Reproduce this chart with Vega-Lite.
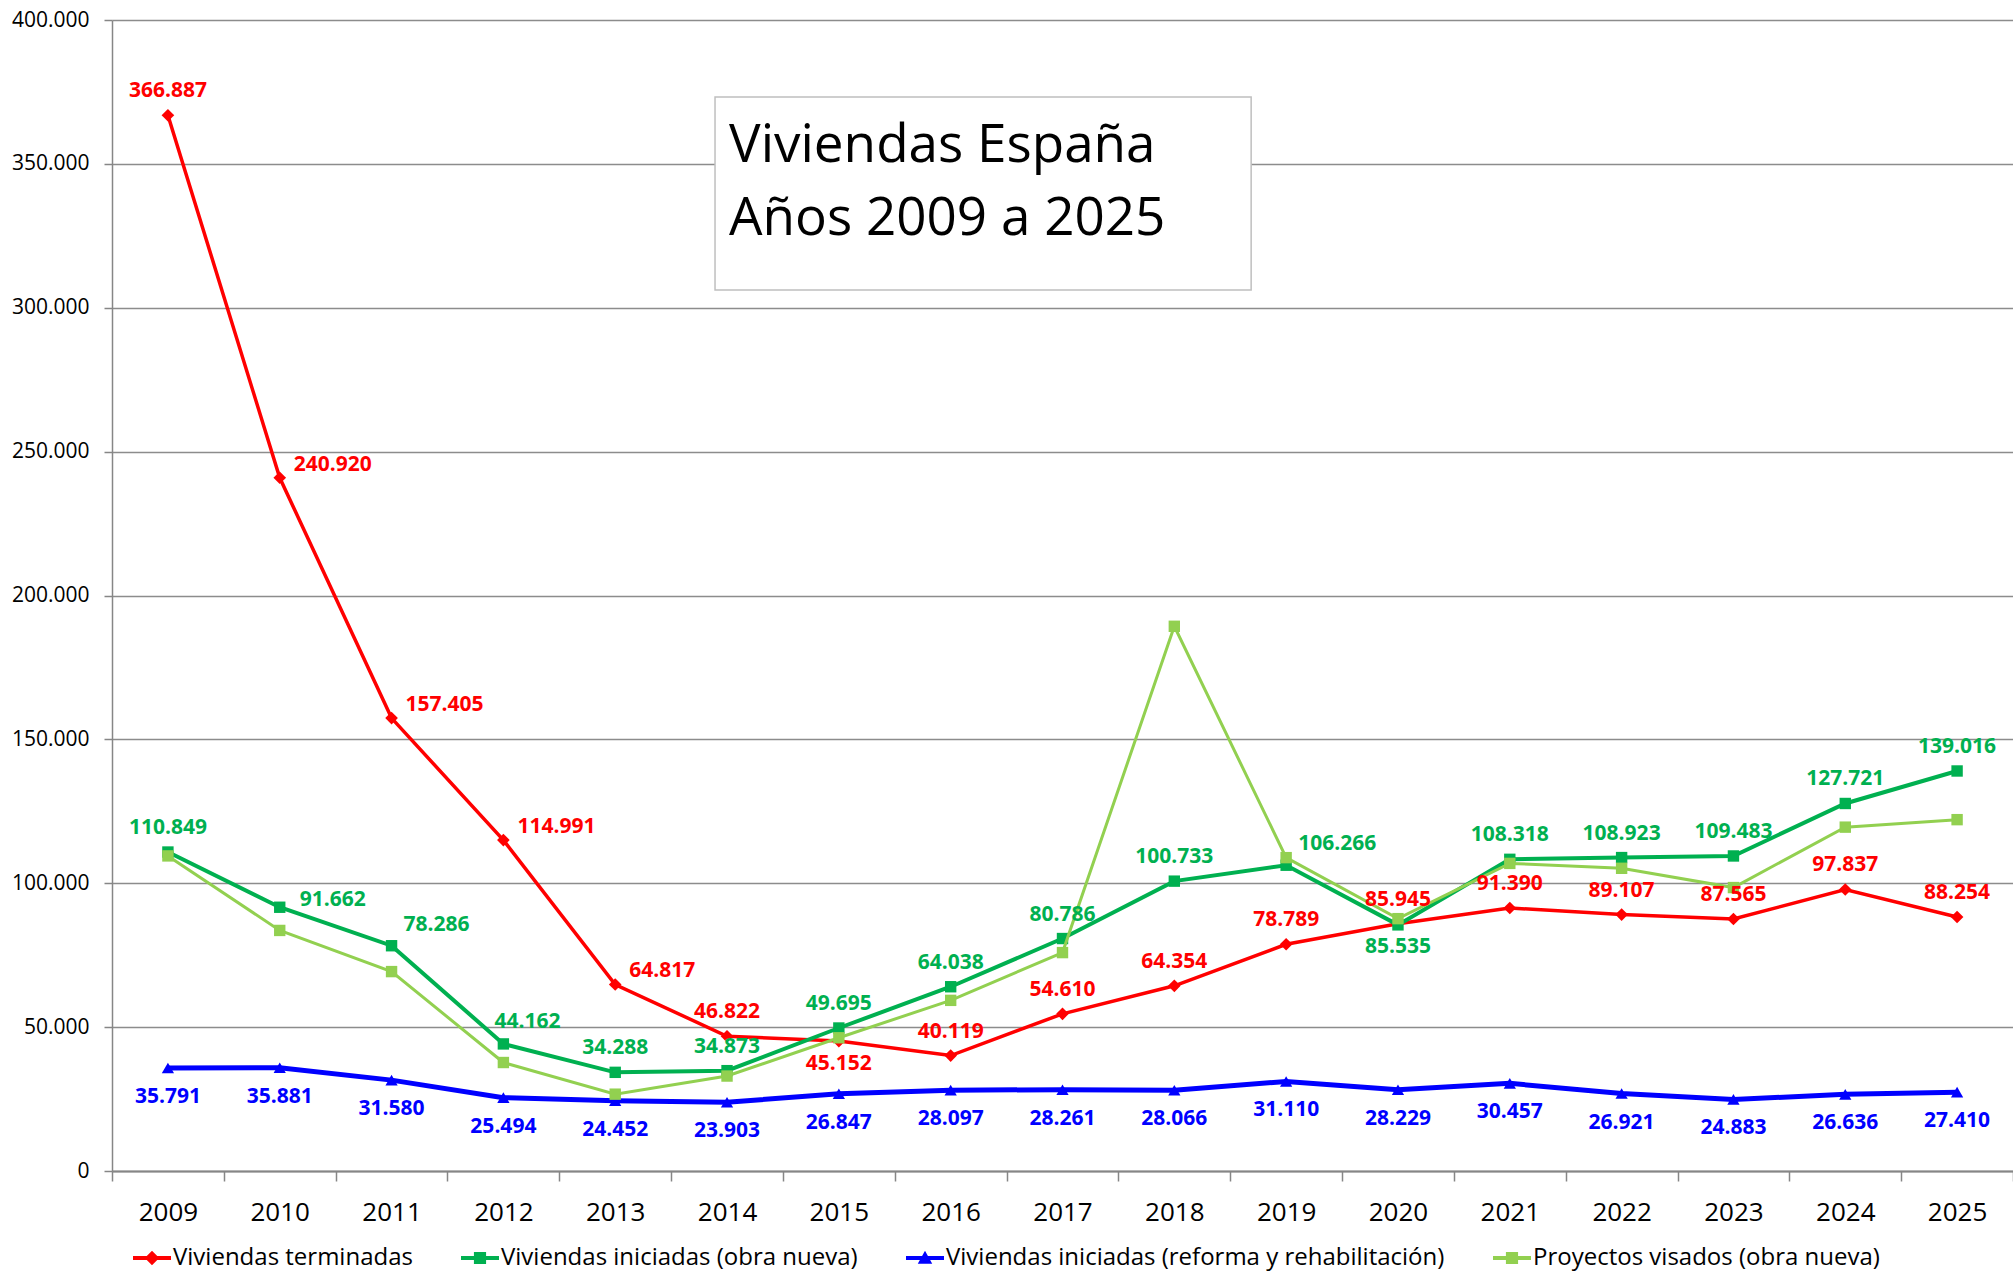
{
  "$schema": "https://vega.github.io/schema/vega-lite/v6.json",
  "width": 1901,
  "height": 1151,
  "autosize": {"type": "none"},
  "padding": {"left": 112, "top": 20, "right": 0, "bottom": 103},
  "background": "white",
  "config": {
    "locale": {"number": {"decimal": ",", "thousands": ".", "grouping": [3], "currency": ["", " €"]}},
    "font": "Open Sans",
    "view": {"stroke": null}
  },
  "data": {"values": [
    {"anio": "2009", "serie": "Viviendas terminadas", "valor": 366887},
    {"anio": "2010", "serie": "Viviendas terminadas", "valor": 240920},
    {"anio": "2011", "serie": "Viviendas terminadas", "valor": 157405},
    {"anio": "2012", "serie": "Viviendas terminadas", "valor": 114991},
    {"anio": "2013", "serie": "Viviendas terminadas", "valor": 64817},
    {"anio": "2014", "serie": "Viviendas terminadas", "valor": 46822},
    {"anio": "2015", "serie": "Viviendas terminadas", "valor": 45152},
    {"anio": "2016", "serie": "Viviendas terminadas", "valor": 40119},
    {"anio": "2017", "serie": "Viviendas terminadas", "valor": 54610},
    {"anio": "2018", "serie": "Viviendas terminadas", "valor": 64354},
    {"anio": "2019", "serie": "Viviendas terminadas", "valor": 78789},
    {"anio": "2020", "serie": "Viviendas terminadas", "valor": 85945},
    {"anio": "2021", "serie": "Viviendas terminadas", "valor": 91390},
    {"anio": "2022", "serie": "Viviendas terminadas", "valor": 89107},
    {"anio": "2023", "serie": "Viviendas terminadas", "valor": 87565},
    {"anio": "2024", "serie": "Viviendas terminadas", "valor": 97837},
    {"anio": "2025", "serie": "Viviendas terminadas", "valor": 88254},
    {"anio": "2009", "serie": "Viviendas iniciadas (obra nueva)", "valor": 110849},
    {"anio": "2010", "serie": "Viviendas iniciadas (obra nueva)", "valor": 91662},
    {"anio": "2011", "serie": "Viviendas iniciadas (obra nueva)", "valor": 78286},
    {"anio": "2012", "serie": "Viviendas iniciadas (obra nueva)", "valor": 44162},
    {"anio": "2013", "serie": "Viviendas iniciadas (obra nueva)", "valor": 34288},
    {"anio": "2014", "serie": "Viviendas iniciadas (obra nueva)", "valor": 34873},
    {"anio": "2015", "serie": "Viviendas iniciadas (obra nueva)", "valor": 49695},
    {"anio": "2016", "serie": "Viviendas iniciadas (obra nueva)", "valor": 64038},
    {"anio": "2017", "serie": "Viviendas iniciadas (obra nueva)", "valor": 80786},
    {"anio": "2018", "serie": "Viviendas iniciadas (obra nueva)", "valor": 100733},
    {"anio": "2019", "serie": "Viviendas iniciadas (obra nueva)", "valor": 106266},
    {"anio": "2020", "serie": "Viviendas iniciadas (obra nueva)", "valor": 85535},
    {"anio": "2021", "serie": "Viviendas iniciadas (obra nueva)", "valor": 108318},
    {"anio": "2022", "serie": "Viviendas iniciadas (obra nueva)", "valor": 108923},
    {"anio": "2023", "serie": "Viviendas iniciadas (obra nueva)", "valor": 109483},
    {"anio": "2024", "serie": "Viviendas iniciadas (obra nueva)", "valor": 127721},
    {"anio": "2025", "serie": "Viviendas iniciadas (obra nueva)", "valor": 139016},
    {"anio": "2009", "serie": "Viviendas iniciadas (reforma y rehabilitación)", "valor": 35791},
    {"anio": "2010", "serie": "Viviendas iniciadas (reforma y rehabilitación)", "valor": 35881},
    {"anio": "2011", "serie": "Viviendas iniciadas (reforma y rehabilitación)", "valor": 31580},
    {"anio": "2012", "serie": "Viviendas iniciadas (reforma y rehabilitación)", "valor": 25494},
    {"anio": "2013", "serie": "Viviendas iniciadas (reforma y rehabilitación)", "valor": 24452},
    {"anio": "2014", "serie": "Viviendas iniciadas (reforma y rehabilitación)", "valor": 23903},
    {"anio": "2015", "serie": "Viviendas iniciadas (reforma y rehabilitación)", "valor": 26847},
    {"anio": "2016", "serie": "Viviendas iniciadas (reforma y rehabilitación)", "valor": 28097},
    {"anio": "2017", "serie": "Viviendas iniciadas (reforma y rehabilitación)", "valor": 28261},
    {"anio": "2018", "serie": "Viviendas iniciadas (reforma y rehabilitación)", "valor": 28066},
    {"anio": "2019", "serie": "Viviendas iniciadas (reforma y rehabilitación)", "valor": 31110},
    {"anio": "2020", "serie": "Viviendas iniciadas (reforma y rehabilitación)", "valor": 28229},
    {"anio": "2021", "serie": "Viviendas iniciadas (reforma y rehabilitación)", "valor": 30457},
    {"anio": "2022", "serie": "Viviendas iniciadas (reforma y rehabilitación)", "valor": 26921},
    {"anio": "2023", "serie": "Viviendas iniciadas (reforma y rehabilitación)", "valor": 24883},
    {"anio": "2024", "serie": "Viviendas iniciadas (reforma y rehabilitación)", "valor": 26636},
    {"anio": "2025", "serie": "Viviendas iniciadas (reforma y rehabilitación)", "valor": 27410},
    {"anio": "2009", "serie": "Proyectos visados (obra nueva)", "valor": 109500},
    {"anio": "2010", "serie": "Proyectos visados (obra nueva)", "valor": 83600},
    {"anio": "2011", "serie": "Proyectos visados (obra nueva)", "valor": 69300},
    {"anio": "2012", "serie": "Proyectos visados (obra nueva)", "valor": 37700},
    {"anio": "2013", "serie": "Proyectos visados (obra nueva)", "valor": 26700},
    {"anio": "2014", "serie": "Proyectos visados (obra nueva)", "valor": 33000},
    {"anio": "2015", "serie": "Proyectos visados (obra nueva)", "valor": 46300},
    {"anio": "2016", "serie": "Proyectos visados (obra nueva)", "valor": 59300},
    {"anio": "2017", "serie": "Proyectos visados (obra nueva)", "valor": 75900},
    {"anio": "2018", "serie": "Proyectos visados (obra nueva)", "valor": 189300},
    {"anio": "2019", "serie": "Proyectos visados (obra nueva)", "valor": 108900},
    {"anio": "2020", "serie": "Proyectos visados (obra nueva)", "valor": 87700},
    {"anio": "2021", "serie": "Proyectos visados (obra nueva)", "valor": 106900},
    {"anio": "2022", "serie": "Proyectos visados (obra nueva)", "valor": 105200},
    {"anio": "2023", "serie": "Proyectos visados (obra nueva)", "valor": 98500},
    {"anio": "2024", "serie": "Proyectos visados (obra nueva)", "valor": 119500},
    {"anio": "2025", "serie": "Proyectos visados (obra nueva)", "valor": 122100}
  ]},
  "encoding": {
    "x": {
      "field": "anio", "type": "ordinal",
      "scale": {"paddingInner": 0, "paddingOuter": 0},
      "axis": {"title": null, "labelAngle": 0, "labelFontSize": 26, "labelColor": "#000000", "labelPadding": 18,
               "tickBand": "extent", "tickSize": 10, "tickColor": "#868686", "tickWidth": 1.5,
               "domainColor": "#868686", "domainWidth": 2, "grid": false}
    },
    "y": {
      "field": "valor", "type": "quantitative",
      "scale": {"domain": [0, 400000], "nice": false, "zero": true},
      "axis": {"title": null, "values": [0, 50000, 100000, 150000, 200000, 250000, 300000, 350000, 400000],
               "format": ",d", "labelFontSize": 21, "labelColor": "#000000", "labelPadding": 15,
               "tickSize": 8, "tickColor": "#868686", "tickWidth": 1.5,
               "grid": true, "gridColor": "#8C8C8C", "gridWidth": 1.5,
               "domainColor": "#868686", "domainWidth": 1.5}
    }
  },
  "layer": [
    {
      "transform": [{"filter": "datum.anio === '2009' && datum.serie === 'Viviendas terminadas'"}],
      "mark": {"type": "rect", "fill": "white", "stroke": "#BFBFBF", "strokeWidth": 1.5, "xOffset": -12, "x2Offset": -35},
      "encoding": {
        "x": {"datum": "2014", "type": "ordinal"}, "x2": {"datum": "2019"},
        "y": {"datum": 373241, "type": "quantitative"}, "y2": {"datum": 306168}
      }
    },
    {
      "transform": [{"filter": "datum.anio === '2009' && datum.serie === 'Viviendas terminadas'"}],
      "mark": {"type": "text", "align": "left", "baseline": "alphabetic", "fontSize": 53, "lineHeight": 73,
               "color": "#000000", "dx": 2, "text": ["Viviendas España", "Años 2009 a 2025"]},
      "encoding": {"x": {"datum": "2014", "type": "ordinal"}, "y": {"datum": 350651, "type": "quantitative"}}
    },
    {
      "transform": [{"filter": "datum.serie === 'Viviendas terminadas'"}],
      "mark": {"type": "line", "color": "#FF0000", "strokeWidth": 3.5}
    },
    {
      "transform": [{"filter": "datum.serie === 'Viviendas terminadas'"}],
      "mark": {"type": "point", "shape": "diamond", "filled": true, "opacity": 1, "size": 160, "color": "#FF0000"}
    },
    {
      "transform": [{"filter": "datum.serie === 'Viviendas iniciadas (obra nueva)'"}],
      "mark": {"type": "line", "color": "#00B050", "strokeWidth": 4}
    },
    {
      "transform": [{"filter": "datum.serie === 'Viviendas iniciadas (obra nueva)'"}],
      "mark": {"type": "point", "shape": "square", "filled": true, "opacity": 1, "size": 130, "color": "#00B050"}
    },
    {
      "transform": [{"filter": "datum.serie === 'Viviendas iniciadas (reforma y rehabilitación)'"}],
      "mark": {"type": "line", "color": "#0000FF", "strokeWidth": 5}
    },
    {
      "transform": [{"filter": "datum.serie === 'Viviendas iniciadas (reforma y rehabilitación)'"}],
      "mark": {"type": "point", "shape": "triangle-up", "filled": true, "opacity": 1, "size": 150, "color": "#0000FF"}
    },
    {
      "transform": [{"filter": "datum.serie === 'Proyectos visados (obra nueva)'"}],
      "mark": {"type": "line", "color": "#92D050", "strokeWidth": 3}
    },
    {
      "transform": [{"filter": "datum.serie === 'Proyectos visados (obra nueva)'"}],
      "mark": {"type": "point", "shape": "square", "filled": true, "opacity": 1, "size": 130, "color": "#92D050"}
    },
    {
      "transform": [{"filter": "datum.serie === 'Viviendas terminadas' && indexof(['2010','2011','2012','2013','2015'], datum.anio) < 0"}],
      "mark": {"type": "text", "fontSize": 21, "fontWeight": "bold", "color": "#FF0000", "dy": -24},
      "encoding": {"text": {"field": "valor", "type": "quantitative", "format": ",d"}}
    },
    {
      "transform": [{"filter": "datum.serie === 'Viviendas terminadas' && indexof(['2010','2011','2012','2013'], datum.anio) >= 0"}],
      "mark": {"type": "text", "fontSize": 21, "fontWeight": "bold", "color": "#FF0000", "align": "left", "dx": 14, "dy": -13},
      "encoding": {"text": {"field": "valor", "type": "quantitative", "format": ",d"}}
    },
    {
      "transform": [{"filter": "datum.serie === 'Viviendas terminadas' && datum.anio === '2015'"}],
      "mark": {"type": "text", "fontSize": 21, "fontWeight": "bold", "color": "#FF0000", "dy": 23},
      "encoding": {"text": {"field": "valor", "type": "quantitative", "format": ",d"}}
    },
    {
      "transform": [{"filter": "datum.serie === 'Viviendas iniciadas (obra nueva)' && indexof(['2010','2011','2012','2019','2020'], datum.anio) < 0"}],
      "mark": {"type": "text", "fontSize": 21, "fontWeight": "bold", "color": "#00B050", "dy": -24},
      "encoding": {"text": {"field": "valor", "type": "quantitative", "format": ",d"}}
    },
    {
      "transform": [{"filter": "datum.serie === 'Viviendas iniciadas (obra nueva)' && datum.anio === '2010'"}],
      "mark": {"type": "text", "fontSize": 21, "fontWeight": "bold", "color": "#00B050", "align": "left", "dx": 20, "dy": -7},
      "encoding": {"text": {"field": "valor", "type": "quantitative", "format": ",d"}}
    },
    {
      "transform": [{"filter": "datum.serie === 'Viviendas iniciadas (obra nueva)' && (datum.anio === '2011' || datum.anio === '2019')"}],
      "mark": {"type": "text", "fontSize": 21, "fontWeight": "bold", "color": "#00B050", "align": "left", "dx": 12, "dy": -21},
      "encoding": {"text": {"field": "valor", "type": "quantitative", "format": ",d"}}
    },
    {
      "transform": [{"filter": "datum.serie === 'Viviendas iniciadas (obra nueva)' && datum.anio === '2012'"}],
      "mark": {"type": "text", "fontSize": 21, "fontWeight": "bold", "color": "#00B050", "align": "left", "dx": -9, "dy": -22},
      "encoding": {"text": {"field": "valor", "type": "quantitative", "format": ",d"}}
    },
    {
      "transform": [{"filter": "datum.serie === 'Viviendas iniciadas (obra nueva)' && datum.anio === '2020'"}],
      "mark": {"type": "text", "fontSize": 21, "fontWeight": "bold", "color": "#00B050", "dy": 22},
      "encoding": {"text": {"field": "valor", "type": "quantitative", "format": ",d"}}
    },
    {
      "transform": [{"filter": "datum.serie === 'Viviendas iniciadas (reforma y rehabilitación)'"}],
      "mark": {"type": "text", "fontSize": 21, "fontWeight": "bold", "color": "#0000FF", "dy": 29},
      "encoding": {"text": {"field": "valor", "type": "quantitative", "format": ",d"}}
    },
    {
      "mark": {"type": "point", "filled": true, "opacity": 0},
      "encoding": {
        "color": {
          "field": "serie", "type": "nominal",
          "scale": {"domain": ["Viviendas terminadas", "Viviendas iniciadas (obra nueva)", "Viviendas iniciadas (reforma y rehabilitación)", "Proyectos visados (obra nueva)"],
                    "range": ["#FF0000", "#00B050", "#0000FF", "#92D050"]},
          "legend": {"title": null, "orient": "none", "legendX": 21, "legendY": 1219, "direction": "horizontal", "columns": 4,
                     "columnPadding": 48, "symbolSize": 1444, "symbolStrokeWidth": 0, "symbolOpacity": 1,
                     "labelFontSize": 24, "labelColor": "#000000", "labelOffset": 2, "labelLimit": 0}
        },
        "shape": {
          "field": "serie", "type": "nominal",
          "scale": {"domain": ["Viviendas terminadas", "Viviendas iniciadas (obra nueva)", "Viviendas iniciadas (reforma y rehabilitación)", "Proyectos visados (obra nueva)"],
                    "range": [
                      "M-1,-0.1H1V0.1H-1Z M0,-0.38L0.38,0L0,0.38L-0.38,0Z",
                      "M-1,-0.1H1V0.1H-1Z M-0.32,-0.32H0.32V0.32H-0.32Z",
                      "M-1,-0.1H1V0.1H-1Z M0,-0.38L0.38,0.3H-0.38Z",
                      "M-1,-0.1H1V0.1H-1Z M-0.32,-0.32H0.32V0.32H-0.32Z"
                    ]},
          "legend": {"title": null, "orient": "none", "legendX": 21, "legendY": 1219, "direction": "horizontal", "columns": 4,
                     "columnPadding": 48, "symbolSize": 1444, "symbolStrokeWidth": 0, "symbolOpacity": 1,
                     "labelFontSize": 24, "labelColor": "#000000", "labelOffset": 2, "labelLimit": 0}
        }
      }
    }
  ]
}
